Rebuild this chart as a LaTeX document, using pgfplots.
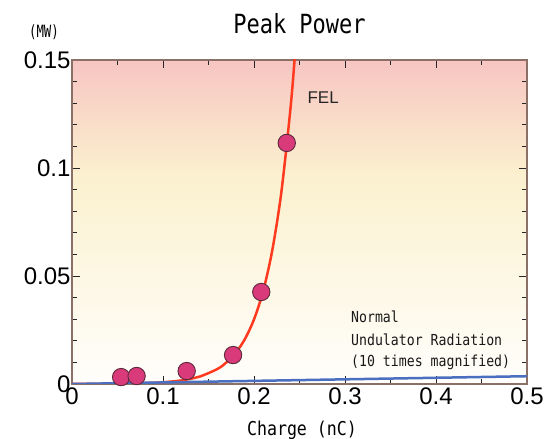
\documentclass[border=0pt]{standalone}
\usepackage{pgfplots}
\pgfplotsset{compat=1.18}
\usepackage{fontspec}
\setmainfont{Liberation Sans}
\newfontfamily\gothic{DejaVu Sans Mono}
\definecolor{bgpink}{HTML}{F7C5C2}
\definecolor{bgyellow}{HTML}{FBF1CF}
\definecolor{bgwhite}{HTML}{FFFEFB}
\definecolor{axisc}{HTML}{8A7066}
\definecolor{felred}{HTML}{FF3A1E}
\definecolor{undblue}{HTML}{4A6EC0}
\definecolor{mkfill}{HTML}{D93A7A}
\definecolor{mkdraw}{HTML}{5A2A3A}
\pgfdeclareverticalshading{bgshade}{100bp}{color(0bp)=(bgwhite); color(25bp)=(bgwhite); color(57bp)=(bgyellow); color(75bp)=(bgpink); color(100bp)=(bgpink)}
\begin{document}
\begin{tikzpicture}
\path[use as bounding box] (0,0) rectangle (550pt,439pt);
\begin{axis}[
  at={(72pt,55pt)}, anchor=south west,
  scale only axis, width=455pt, height=324pt,
  xmin=0, xmax=0.5, ymin=0, ymax=0.15,
  xtick={0,0.1,0.2,0.3,0.4,0.5},
  minor xtick={0.05,0.15,0.25,0.35,0.45},
  ytick={0,0.05,0.1,0.15},
  minor ytick={0.01,0.02,0.03,0.04,0.06,0.07,0.08,0.09,0.11,0.12,0.13,0.14},
  tick align=inside,
  major tick length=8pt, minor tick length=5pt,
  every tick/.style={draw=black!85, line width=0.8pt},
  axis line style={draw=axisc, line width=1.2pt},
  axis background/.style={shading=bgshade},
  /pgf/number format/assume math mode=true,
  /pgf/number format/fixed,
  /pgf/number format/precision=2,
  scaled y ticks=false, scaled x ticks=false,
  tick label style={font=\fontsize{24}{24}\selectfont},
  yticklabel style={xshift=2pt},
  xticklabel style={yshift=0pt},
  clip=true,
]
\addplot[felred, line width=2.5pt, smooth] coordinates {
(0,0.00002) (0.05,0.00013) (0.08,0.00039) (0.10,0.0008) (0.12,0.00165)
(0.14,0.0034) (0.16,0.0070) (0.17,0.0101) (0.18,0.0145) (0.19,0.0208)
(0.20,0.0299) (0.21,0.0429) (0.22,0.0617) (0.23,0.0886) (0.24,0.1272)
(0.245,0.1524) (0.25,0.1827)};
\addplot[undblue, line width=2.5pt] coordinates {(0,0) (0.5,0.0036)};
\addplot[only marks, mark=*, mark size=8.7pt, mark options={fill=mkfill, draw=mkdraw, line width=0.9pt}] coordinates {
(0.054,0.0032) (0.071,0.0037) (0.126,0.0060) (0.177,0.0134) (0.208,0.0426) (0.236,0.1116)};
\node[font=\fontsize{17}{17}\selectfont, text=black!85] at (axis cs:0.276,0.1324) {FEL};
\node[font=\gothic\fontsize{13.2}{13.2}\selectfont, anchor=base west, inner sep=0pt, text=black!90] at (axis cs:0.3066,0.0287) {\scalebox{1}[1.15]{Normal}};
\node[font=\gothic\fontsize{13.2}{13.2}\selectfont, anchor=base west, inner sep=0pt, text=black!90] at (axis cs:0.3066,0.0180) {\scalebox{1}[1.15]{Undulator Radiation}};
\node[font=\gothic\fontsize{13.2}{13.2}\selectfont, anchor=base west, inner sep=0pt, text=black!90] at (axis cs:0.3066,0.0079) {\scalebox{1}[1.15]{(10 times magnified)}};
\end{axis}
\node[font=\gothic\fontsize{22}{22}\selectfont] at (299.5pt,415pt) {\scalebox{1}[1.2]{Peak Power}};
\node[font=\gothic\fontsize{16.6}{16.6}\selectfont] at (302pt,9pt) {\scalebox{1}[1.15]{Charge (nC)}};
\node[font=\gothic\fontsize{13}{13}\selectfont] at (44pt,407pt) {\scalebox{0.95}[1.3]{(MW)}};
\end{tikzpicture}
\end{document}
